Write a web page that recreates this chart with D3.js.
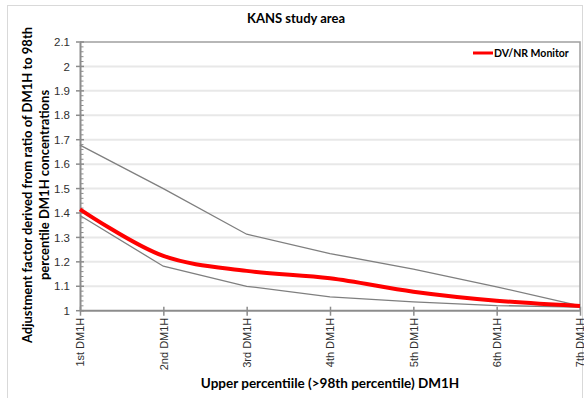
<!DOCTYPE html>
<html>
<head>
<meta charset="utf-8">
<script src="https://cdn.jsdelivr.net/npm/d3@7"></script>
<style>
  html, body { margin: 0; padding: 0; background: #fff; }
  svg { display: block; font-family: Lato, "Open Sans", sans-serif; }
</style>
</head>
<body>
<svg id="chart" width="584" height="398"></svg>
<script>
// ---- data ----
const categories = ["1st DM1H", "2nd DM1H", "3rd DM1H", "4th DM1H", "5th DM1H", "6th DM1H", "7th DM1H"];
const monitorValues = [1.415, 1.224, 1.163, 1.133, 1.078, 1.041, 1.019];
const upperValues   = [1.678, 1.500, 1.313, 1.234, 1.170, 1.098, 1.020];
const lowerValues   = [1.390, 1.182, 1.100, 1.057, 1.036, 1.021, 1.015];
const yTicks = [1, 1.1, 1.2, 1.3, 1.4, 1.5, 1.6, 1.7, 1.8, 1.9, 2, 2.1];
const titleText = "KANS study area";
const xTitle = "Upper percentiile (>98th percentile) DM1H";
const yTitleLines = ["Adjustment factor derived from ratio of DM1H to 98th", "percentile DM1H concentrations"];
const legendLabel = "DV/NR Monitor";

// ---- layout ----
const svg = d3.select("#chart");
const L = 80, R = 580, T = 42, B = 310.7;

const x = d3.scalePoint().domain(categories).range([L, R]);
const y = d3.scaleLinear().domain([1, 2.1]).range([B, T]);

// outer chart border
svg.append("rect").attr("x", 7.5).attr("y", 5.5).attr("width", 575).attr("height", 400)
  .attr("fill", "none").attr("stroke", "#d9d9d9").attr("stroke-width", 1);

// title
svg.append("text").attr("x", 296).attr("y", 23).attr("text-anchor", "middle")
  .attr("font-weight", "bold").attr("font-size", 13).attr("fill", "#000").text(titleText);

// gridlines
svg.append("g").selectAll("line").data(yTicks.filter(d => d > 1 && d < 2.1)).join("line")
  .attr("x1", L).attr("x2", R).attr("y1", d => y(d)).attr("y2", d => y(d))
  .attr("stroke", "#e8e8e8").attr("stroke-width", 2);

// plot border top & right
svg.append("path").attr("d", `M${L},${T}H${R}V${B}`).attr("fill", "none")
  .attr("stroke", "#a0a0a0").attr("stroke-width", 1.5);

// y axis
const yAxis = d3.axisLeft(y).tickValues(yTicks).tickFormat(d3.format("~g")).tickSize(0).tickPadding(10);
const gy = svg.append("g").attr("transform", `translate(${L},0)`).call(yAxis);
gy.select(".domain").attr("stroke", "#8c8c8c").attr("stroke-width", 2);
gy.selectAll("text").attr("font-size", 11.5).attr("fill", "#303030");
// major ticks crossing
svg.append("g").selectAll("line").data(yTicks).join("line")
  .attr("x1", L - 4).attr("x2", L + 4).attr("y1", d => y(d)).attr("y2", d => y(d))
  .attr("stroke", "#8c8c8c").attr("stroke-width", 1.5);
// minor ticks
const minor = d3.range(0, 56).map(i => 1 + i * 0.02).filter(v => Math.abs(v * 10 - Math.round(v * 10)) > 1e-6);
svg.append("g").selectAll("line").data(minor).join("line")
  .attr("x1", L).attr("x2", L + 3.5).attr("y1", d => y(d)).attr("y2", d => y(d))
  .attr("stroke", "#8c8c8c").attr("stroke-width", 1);

// x axis
const xAxis = d3.axisBottom(x).tickSize(5).tickPadding(0);
const gx = svg.append("g").attr("transform", `translate(0,${B})`).call(xAxis);
gx.select(".domain").attr("stroke", "#8c8c8c").attr("stroke-width", 2).attr("d", `M${L},0H${R}`);
gx.selectAll(".tick line").attr("stroke", "#8c8c8c").attr("stroke-width", 1.5).attr("y1", -4);
gx.selectAll(".tick text")
  .attr("transform", "rotate(-90)")
  .attr("text-anchor", "end")
  .attr("x", -7).attr("y", 0).attr("dy", "0.35em")
  .attr("font-size", 11).attr("fill", "#303030");

// series
const lineStraight = d3.line().x((d, i) => x(categories[i])).y(d => y(d));
const lineSmooth = d3.line().x((d, i) => x(categories[i])).y(d => y(d)).curve(d3.curveCatmullRom.alpha(0.5));

svg.append("path").datum(upperValues).attr("d", lineStraight)
  .attr("fill", "none").attr("stroke", "#7f7f7f").attr("stroke-width", 1.3);
svg.append("path").datum(lowerValues).attr("d", lineStraight)
  .attr("fill", "none").attr("stroke", "#7f7f7f").attr("stroke-width", 1.3);
svg.append("path").datum(monitorValues).attr("d", lineSmooth)
  .attr("fill", "none").attr("stroke", "#ff0000").attr("stroke-width", 4).attr("stroke-linejoin", "round");

// legend
svg.append("line").attr("x1", 473).attr("x2", 493).attr("y1", 53).attr("y2", 53)
  .attr("stroke", "#ff0000").attr("stroke-width", 3);
svg.append("text").attr("x", 494).attr("y", 53).attr("dy", "0.35em")
  .attr("font-size", 10.5).attr("font-weight", "bold").attr("fill", "#000").text(legendLabel);

// axis titles
svg.append("text").attr("x", 330).attr("y", 388).attr("text-anchor", "middle")
  .attr("font-size", 13.5).attr("font-weight", "bold").attr("fill", "#000").text(xTitle);

const yt = svg.append("text").attr("transform", "translate(32,185) rotate(-90)")
  .attr("text-anchor", "middle").attr("font-size", 13).attr("font-weight", "bold").attr("fill", "#000");
yTitleLines.forEach((t, i) => {
  yt.append("tspan").attr("x", 0).attr("y", i * 16.5).text(t);
});
</script>
</body>
</html>
